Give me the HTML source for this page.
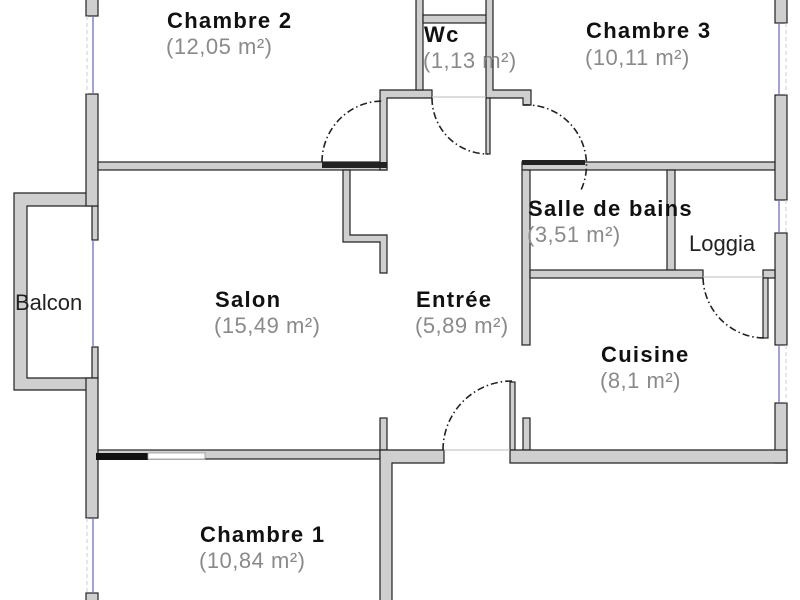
<!DOCTYPE html>
<html><head><style>
html,body{margin:0;padding:0;background:#fff;width:800px;height:600px;overflow:hidden}
svg{display:block}
text{font-family:"Liberation Sans",sans-serif}
.l{font-size:22px;fill:#111;font-weight:bold;letter-spacing:1.3px}
.a{font-size:22px;fill:#8a8a8a;letter-spacing:0.5px}
.d{font-size:22px;fill:#222}
</style></head><body>
<svg width="800" height="600" viewBox="0 0 800 600">
<g fill="#cfcfcf" stroke="#222" stroke-width="1.2">
<path d="M14 193 H92 V206 H27 V378 H92 V390 H14 Z"/>
<rect x="86" y="-2" width="12" height="18"/>
<rect x="92" y="206" width="6" height="34"/>
<rect x="86" y="94" width="12" height="112"/>
<rect x="92" y="347" width="6" height="31"/>
<rect x="86" y="378" width="12" height="140"/>
<rect x="86" y="593" width="12" height="10"/>
<rect x="98" y="162" width="289" height="8"/>
<path d="M380 90 H432 V98 H387 V170 H380 Z"/>
<rect x="416" y="-2" width="7" height="92"/>
<rect x="423" y="15" width="64" height="8"/>
<path d="M486 -2 H493 V90 H531 V105 H523 V98 H486 Z"/>
<rect x="486" y="98" width="4" height="56"/>
<path d="M343 170 H350 V235 H387 V273 H380 V242 H343 Z"/>
<rect x="522" y="162" width="253" height="8"/>
<rect x="775" y="-2" width="12" height="25"/>
<rect x="775" y="95" width="12" height="105"/>
<rect x="775" y="233" width="12" height="112"/>
<rect x="775" y="403" width="12" height="60"/>
<rect x="522" y="170" width="8" height="175"/>
<rect x="667" y="170" width="8" height="100"/>
<rect x="530" y="270" width="173" height="8"/>
<rect x="763" y="270" width="12" height="8"/>
<rect x="763" y="278" width="5" height="60"/>
<rect x="98" y="450" width="282" height="9"/>
<rect x="380" y="418" width="7" height="32"/>
<path d="M380 450 H444 V463 H392 V603 H380 Z"/>
<rect x="510" y="382" width="5" height="68"/>
<rect x="523" y="418" width="7" height="32"/>
<path d="M510 450 H787 V463 H510 Z"/>
</g>
<rect x="322" y="162" width="65" height="6" fill="#222"/>
<rect x="522" y="160" width="63" height="5" fill="#222"/>
<rect x="96" y="453" width="52" height="7" fill="#111"/>
<rect x="148" y="453" width="57" height="6" fill="#fff" stroke="#999" stroke-width="0.8"/>
<g stroke="#7070c0" stroke-width="1.3">
<line x1="93" y1="16" x2="93" y2="94"/>
<line x1="93" y1="240" x2="93" y2="347"/>
<line x1="93" y1="518" x2="93" y2="593"/>
<line x1="779" y1="23" x2="779" y2="95"/>
<line x1="779" y1="200" x2="779" y2="233"/>
<line x1="779" y1="345" x2="779" y2="403"/>
</g>
<g stroke="#ccc" stroke-width="1" stroke-dasharray="4 3">
<line x1="87" y1="16" x2="87" y2="94"/>
<line x1="87" y1="518" x2="87" y2="593"/>
<line x1="786" y1="23" x2="786" y2="95"/>
<line x1="786" y1="200" x2="786" y2="233"/>
<line x1="786" y1="345" x2="786" y2="403"/>
</g>
<g stroke="#bbb" stroke-width="1">
<line x1="432" y1="97" x2="486" y2="97"/>
<line x1="444" y1="450" x2="510" y2="450"/>
<line x1="703" y1="277" x2="763" y2="277"/>
</g>
<g fill="none" stroke="#222" stroke-width="1.6" stroke-dasharray="7 3 1.5 3">
<path d="M322 162 A61 61 0 0 1 383 101"/>
<path d="M432 98 A56 56 0 0 0 488 154"/>
<path d="M523 105 A60 60 0 0 1 581 190"/>
<path d="M443 450 A69 69 0 0 1 512 381"/>
<path d="M703 278 A62 62 0 0 0 765 338"/>
</g>
<text class="l" x="167" y="28">Chambre 2</text>
<text class="a" x="166" y="54">(12,05 m²)</text>
<text class="l" x="424" y="42">Wc</text>
<text class="a" x="423" y="68">(1,13 m²)</text>
<text class="l" x="586" y="38">Chambre 3</text>
<text class="a" x="585" y="65">(10,11 m²)</text>
<text class="l" x="528" y="216">Salle de bains</text>
<text class="a" x="527" y="242">(3,51 m²)</text>
<text class="d" x="689" y="251">Loggia</text>
<text class="d" x="15" y="310">Balcon</text>
<text class="l" x="215" y="307">Salon</text>
<text class="a" x="214" y="333">(15,49 m²)</text>
<text class="l" x="416" y="307">Entrée</text>
<text class="a" x="415" y="333">(5,89 m²)</text>
<text class="l" x="601" y="362">Cuisine</text>
<text class="a" x="600" y="388">(8,1 m²)</text>
<text class="l" x="200" y="542">Chambre 1</text>
<text class="a" x="199" y="568">(10,84 m²)</text>
</svg>
</body></html>
